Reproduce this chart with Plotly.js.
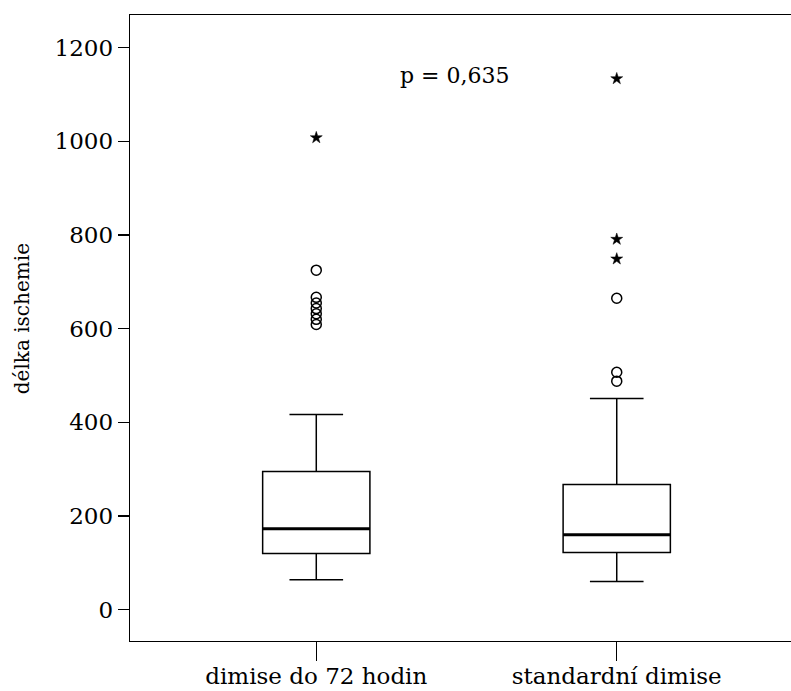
<!DOCTYPE html>
<html>
<head>
<meta charset="utf-8">
<script src="https://cdn.plot.ly/plotly-3.0.1.min.js"></script>
<style>html,body{margin:0;padding:0;background:#fff;overflow:hidden;}#chart{width:791px;height:691px;}</style>
</head>
<body>
<div id="chart"></div>
<script>
// Data
const categories = ["dimise do 72 hodin", "standardní dimise"];
const q1Values = [120, 122];
const medianValues = [173, 160];
const q3Values = [295, 267];
const lowerWhisker = [64, 60];
const upperWhisker = [417, 451];
// Outliers (circles) and extreme values (stars)
const circleOutliers = [
  [725, 667, 655, 643, 632, 620, 609],
  [665, 507, 488]
];
const starOutliers = [
  [1008],
  [1134, 791, 749]
];
const yTicks = [0, 200, 400, 600, 800, 1000, 1200];
const yTitle = "délka ischemie";
const pText = "p = 0,635";

const boxWidth = 0.357;
const font = "DejaVu Serif, Liberation Serif, serif";
const xIdx = categories.map((c, i) => i);

const traces = [];
traces.push({
  type: "box",
  x: xIdx,
  q1: q1Values,
  median: medianValues,
  q3: q3Values,
  lowerfence: lowerWhisker,
  upperfence: upperWhisker,
  width: boxWidth,
  whiskerwidth: 0.5,
  fillcolor: "#ffffff",
  line: {color: "#000000", width: 1.5},
  boxpoints: false,
  hoverinfo: "skip",
  showlegend: false
});
// thicker median lines
xIdx.forEach((xi, i) => {
  traces.push({
    type: "scatter", mode: "lines",
    x: [xi - boxWidth / 2, xi + boxWidth / 2],
    y: [medianValues[i], medianValues[i]],
    line: {color: "#000000", width: 3},
    showlegend: false, hoverinfo: "skip"
  });
});
// circle outliers
const cx = [], cy = [];
circleOutliers.forEach((arr, i) => arr.forEach(v => { cx.push(xIdx[i]); cy.push(v); }));
traces.push({
  type: "scatter", mode: "markers", x: cx, y: cy,
  marker: {symbol: "circle-open", size: 10, color: "#000000", line: {width: 1.5, color: "#000000"}},
  showlegend: false, hoverinfo: "skip"
});
// star extremes
const sx = [], sy = [];
starOutliers.forEach((arr, i) => arr.forEach(v => { sx.push(xIdx[i]); sy.push(v); }));
traces.push({
  type: "scatter", mode: "markers", x: sx, y: sy,
  marker: {symbol: "star", size: 9, color: "#000000", line: {width: 0.5, color: "#000000"}},
  showlegend: false, hoverinfo: "skip"
});

const layout = {
  width: 791, height: 691,
  autosize: false,
  margin: {l: 130, r: 0, t: 15, b: 50, pad: 0, autoexpand: false},
  paper_bgcolor: "#ffffff", plot_bgcolor: "#ffffff",
  font: {family: font, color: "#000000", size: 20},
  showlegend: false,
  xaxis: {
    range: [-0.62, 1.58],
    tickvals: xIdx, ticktext: categories,
    ticks: "outside", ticklen: 19, tickwidth: 1.3, tickcolor: "#000",
    ticklabelstandoff: -5,
    showline: true, linecolor: "#000", linewidth: 1.3, mirror: true,
    showgrid: false, zeroline: false,
    tickfont: {family: font, size: 23, color: "#000"}
  },
  yaxis: {
    range: [-67, 1270],
    tickvals: yTicks, ticktext: yTicks.map(String),
    ticks: "outside", ticklen: 11, tickwidth: 1.3, tickcolor: "#000",
    showline: true, linecolor: "#000", linewidth: 1.3, mirror: true,
    showgrid: false, zeroline: false,
    tickfont: {family: font, size: 23, color: "#000"}
  },
  annotations: [{
    x: 0.46, y: 1140, xref: "x", yref: "y",
    text: pText, showarrow: false,
    font: {family: font, size: 22, color: "#000"}
  }, {
    x: 22, y: 0.514, xref: "paper", yref: "paper", xanchor: "center", yanchor: "middle",
    text: yTitle, showarrow: false, textangle: -90,
    font: {family: font, size: 20, color: "#000"}
  }]
};
// place the y title in pixel units from the left edge of the figure
layout.annotations[1].x = (22 - layout.margin.l) / (layout.width - layout.margin.l - layout.margin.r);

Plotly.newPlot("chart", traces, layout, {staticPlot: true, displayModeBar: false});
</script>
</body>
</html>
